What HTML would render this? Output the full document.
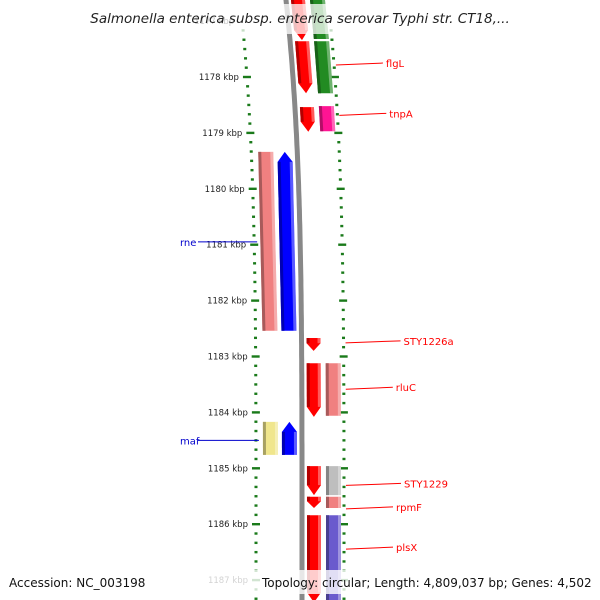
<!DOCTYPE html>
<html><head><meta charset="utf-8"><style>
html,body{margin:0;padding:0;background:#fff;}
svg{display:block;font-family:"DejaVu Sans","Liberation Sans",sans-serif;}
</style></head><body>
<svg id="map" width="600" height="600" viewBox="0 0 600 600">
<g id="ticks"></g>
<path id="backbone" fill="none" stroke="#888" stroke-width="5"/>
<g id="genes"></g>
<g id="labels"></g>
<rect x="0" y="4" width="600" height="30" fill="#fff" opacity="0.75"/>
<text x="300" y="23" text-anchor="middle" font-style="italic" font-size="13.5" fill="#222">Salmonella enterica subsp. enterica serovar Typhi str. CT18,...</text>
<rect x="0" y="570" width="600" height="24" fill="#fff" opacity="0.8"/>
<text x="9" y="587" font-size="12" fill="#111">Accession: NC_003198</text>
<text x="262" y="587" font-size="12" fill="#111">Topology: circular; Length: 4,809,037 bp; Genes: 4,502</text>
</svg>
<script>
// data (kbp)
const geneStart = [1176.6,1176.6,1177.36,1177.36,1178.54,1178.52,1179.34,1179.34,1182.67,1183.12,1183.12,1184.17,1184.17,1184.96,1184.96,1185.51,1185.51,1185.84,1185.84];
const geneEnd   = [1177.34,1177.32,1178.29,1178.29,1178.98,1178.97,1182.54,1182.54,1182.9,1184.08,1184.06,1184.76,1184.76,1185.48,1185.48,1185.71,1185.71,1187.4,1187.4];
const geneTrack = ['R1','R2','R1','R2','R1','R2','L2','L1','R1','R1','R2','L2','L1','R1','R2','R1','R2','R1','R2'];
const geneStrand= [-1,0,-1,0,-1,0,0,1,-1,-1,0,0,1,-1,0,-1,0,-1,0];
const geneColor = ['#ff0000','#228b22','#ff0000','#228b22','#ff0000','#ff1493','#f08080','#0000ff','#ff0000','#ff0000','#f08080','#f0e68c','#0000ff','#ff0000','#bebebe','#ff0000','#f08080','#ff0000','#6a5acd'];
const labelText = ['flgL','tnpA','rne','STY1226a','rluC','maf','STY1229','rpmF','plsX'];
const labelPos  = [1177.75,1178.65,1180.95,1182.72,1183.55,1184.5,1185.27,1185.69,1186.41];
const labelSide = [1,1,-1,1,1,-1,1,1,1];
const labelColor= ['#f00','#f00','#00c','#f00','#f00','#00c','#f00','#f00','#f00'];
const tickMajor = [1177,1178,1179,1180,1181,1182,1183,1184,1185,1186,1187];

const NS='http://www.w3.org/2000/svg';
const Y=k=>77+(k-1178)*55.9;
const B=y=>302-16*Math.pow(Math.max(0,(580-y))/580,4);
const TR={L2:[-39,-24],L1:[-20,-5],R1:[5,19],R2:[24,39]};
function mk(t,a,p){const e=document.createElementNS(NS,t);for(const k in a)e.setAttribute(k,a[k]);p.appendChild(e);return e;}
let d='';for(let y=-5;y<=605;y+=5)d+=(y<0?'M':'L')+B(y).toFixed(1)+' '+y+' ';
document.getElementById('backbone').setAttribute('d',d);
const tg=document.getElementById('ticks');
for(let k=1176.5;k<=1187.6;k+=1/6){
  const y=Y(k);if(y<28||y>600)continue;
  const maj=Math.abs(k-Math.round(k))<0.01;
  [-46,42].forEach(o=>{
    const x=B(y)+o;
    const r=mk('rect',{x:x-(maj?4:1.5),y:y-1.2,width:maj?8:3,height:2.4,fill:'#1a7a1a'},tg);
    
    
  });
}
tickMajor.forEach(k=>{
  const y=Y(k);
  const t=mk('text',{x:B(y)-54,y:y+3,'font-size':8.5,'text-anchor':'end',fill:'#222'},tg);
  t.textContent=k+' kbp';
  
  
});
const gg=document.getElementById('genes');
function shade(c,f){const n=parseInt(c.slice(1),16);let r=n>>16,g=(n>>8)&255,b=n&255;r=Math.round(r*f);g=Math.round(g*f);b=Math.round(b*f);return `rgb(${r},${g},${b})`;}
geneStart.forEach((s,i)=>{
  const y1=Y(s),y2=Y(geneEnd[i]);const [o1,o2]=TR[geneTrack[i]];
  const a=B(y1),b=B(y2);const h=Math.min(10,(y2-y1)*0.6);
  let pts;
  if(geneStrand[i]<0){const ym=y2-h,bm=B(ym);pts=[[a+o1,y1],[a+o2,y1],[bm+o2,ym],[b+(o1+o2)/2,y2],[bm+o1,ym]];}
  else if(geneStrand[i]>0){const ym=y1+h,am=B(ym);pts=[[a+(o1+o2)/2,y1],[am+o2,ym],[b+o2,y2],[b+o1,y2],[am+o1,ym]];}
  else pts=[[a+o1,y1],[a+o2,y1],[b+o2,y2],[b+o1,y2]];
  const g=mk('g',{},gg);
  
  
  mk('polygon',{points:pts.map(p=>p.join(',')).join(' '),fill:geneColor[i]},g);
  const t0=y1+(geneStrand[i]>0?h:0),t1=y2-(geneStrand[i]<0?h:0);
  mk('polygon',{points:[[B(t0)+o1,t0],[B(t0)+o1+3,t0],[B(t1)+o1+3,t1],[B(t1)+o1,t1]].map(p=>p.join(',')).join(' '),fill:shade(geneColor[i],0.7)},g);
  mk('polygon',{points:[[B(t0)+o2-3,t0],[B(t0)+o2,t0],[B(t1)+o2,t1],[B(t1)+o2-3,t1]].map(p=>p.join(',')).join(' '),fill:'#fff',opacity:0.35},g);
});
const lg=document.getElementById('labels');
labelText.forEach((t,i)=>{
  const y=Y(labelPos[i]);
  const g=mk('g',{},lg);
  
  
  if(labelSide[i]>0){
    const x0=B(y)+44;
    mk('line',{x1:x0,y1:y+2,x2:x0+(t.length>4?55:47),y2:y,stroke:labelColor[i],'stroke-width':1},g);
    const tx=mk('text',{x:x0+(t.length>4?58:50),y:y+4,'font-size':10,fill:labelColor[i]},g);tx.textContent=t;
  }else{
    const x2=B(y)-53;
    mk('line',{x1:198,y1:y,x2:x2+10,y2:y,stroke:labelColor[i],'stroke-width':1},g);
    const tx=mk('text',{x:180,y:y+4,'font-size':10,fill:labelColor[i]},g);tx.textContent=t;
  }
});
</script>
</body></html>
